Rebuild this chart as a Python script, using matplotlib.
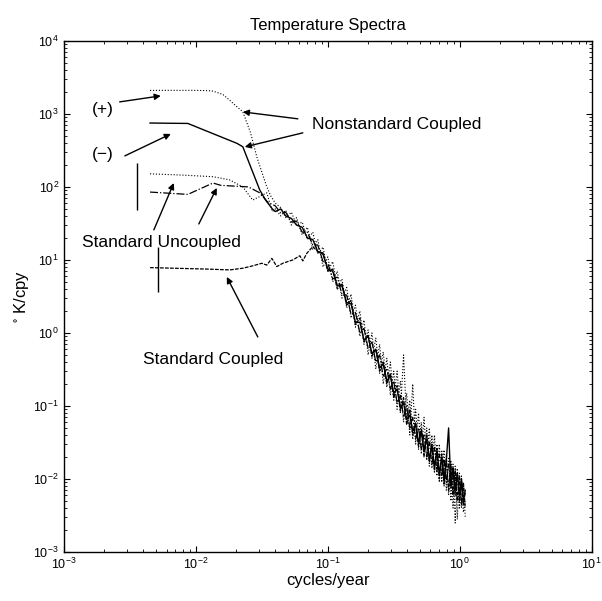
import matplotlib
matplotlib.use("Agg")
import matplotlib.pyplot as plt

plt.rcParams["font.family"] = ["Liberation Sans", "DejaVu Sans"]
plt.rcParams["mathtext.default"] = "regular"

# shared high-frequency grid (cycles/year)
f_tail = [0.040, 0.044, 0.048, 0.053, 0.058, 0.064, 0.070, 0.077, 0.084, 0.092,
          0.100, 0.109, 0.118, 0.128, 0.139, 0.150, 0.162, 0.175, 0.188, 0.202,
          0.216, 0.231, 0.247, 0.263, 0.280, 0.298, 0.316, 0.335, 0.355, 0.375,
          0.396, 0.418, 0.440, 0.463, 0.487, 0.511, 0.536, 0.562, 0.588, 0.615,
          0.643, 0.671, 0.700, 0.730, 0.760, 0.791, 0.823, 0.856, 0.889, 0.923,
          0.958, 0.994, 1.030, 1.065, 1.100]

# Nonstandard Coupled (+)
plus_x = [0.0045, 0.006, 0.008, 0.010, 0.0125, 0.0135, 0.016, 0.018, 0.020,
          0.0227, 0.026, 0.029, 0.032, 0.0345, 0.037]
plus_y = [2100, 2100, 2100, 2100, 2080, 2050, 1850, 1550, 1300,
          1070, 550, 257, 150, 100, 75]
plus_tail = [60, 52, 38, 45, 30, 33, 19, 24, 12, 15,
             7, 9.5, 4.2, 5.5, 2.2, 3.4, 1.2, 2.0, 0.7, 1.1,
             0.45, 0.85, 0.28, 0.55, 0.18, 0.40, 0.12, 0.30, 0.08, 0.50,
             0.06, 0.12, 0.035, 0.09, 0.025, 0.06, 0.02, 0.05, 0.015, 0.04,
             0.012, 0.03, 0.009, 0.025, 0.008, 0.022, 0.006, 0.018, 0.004, 0.015,
             0.0028, 0.012, 0.004, 0.009, 0.003]

# Nonstandard Coupled (-)
minus_x = [0.0045, 0.006, 0.0087, 0.0205, 0.0227, 0.0305, 0.034, 0.038]
minus_y = [750, 745, 740, 395, 355, 91, 65, 50]
minus_tail = [46, 50, 40, 37, 30, 28, 20, 19, 13, 12,
              7.5, 7, 4.5, 4.4, 2.6, 2.5, 1.4, 1.4, 0.8, 0.9,
              0.52, 0.6, 0.33, 0.38, 0.22, 0.26, 0.15, 0.17, 0.095, 0.11,
              0.065, 0.075, 0.045, 0.055, 0.032, 0.045, 0.025, 0.035, 0.019, 0.028,
              0.015, 0.024, 0.012, 0.02, 0.01, 0.018, 0.05, 0.008, 0.014, 0.007,
              0.012, 0.006, 0.01, 0.005, 0.007]

# Standard Uncoupled (two runs)
unc1_x = [0.0045, 0.008, 0.0135, 0.018, 0.0227, 0.027, 0.0345, 0.038]
unc1_y = [151, 145, 138, 125, 100, 66, 83, 46]
unc1_tail = [50, 40, 48, 30, 38, 22, 28, 14, 19, 8,
             11, 5, 7, 3, 4.2, 1.6, 2.4, 0.9, 1.5, 0.5,
             1.0, 0.32, 0.7, 0.2, 0.45, 0.14, 0.30, 0.09, 0.22, 0.06,
             0.15, 0.04, 0.20, 0.03, 0.08, 0.022, 0.07, 0.018, 0.05, 0.014,
             0.04, 0.011, 0.03, 0.009, 0.025, 0.007, 0.02, 0.005, 0.016, 0.0025,
             0.014, 0.004, 0.011, 0.0035, 0.005]

unc2_x = [0.0045, 0.0087, 0.0135, 0.0155, 0.025, 0.0305, 0.035]
unc2_y = [85, 79, 113, 105, 100, 83, 62]
unc2_tail = [55, 44, 45, 33, 34, 24, 24, 16, 16, 9.5,
             9, 5.5, 5.8, 3.4, 3.3, 1.8, 1.9, 1.0, 1.15, 0.62,
             0.75, 0.4, 0.5, 0.25, 0.33, 0.17, 0.22, 0.11, 0.14, 0.07,
             0.10, 0.05, 0.07, 0.035, 0.05, 0.026, 0.04, 0.02, 0.032, 0.016,
             0.027, 0.013, 0.022, 0.011, 0.018, 0.009, 0.016, 0.0075, 0.014, 0.006,
             0.012, 0.005, 0.009, 0.0045, 0.0065]

# Standard Coupled
cpl_x = [0.0045, 0.012, 0.0181, 0.0227, 0.027, 0.0316, 0.0345, 0.0377, 0.0411,
         0.0456, 0.0543, 0.0614, 0.0647, 0.0693, 0.0769]
cpl_y = [7.85, 7.5, 7.3, 7.7, 8.3, 9.0, 8.5, 10.5, 8.1,
         9.0, 10, 11.4, 9.7, 12.3, 15.2]
cpl_tail = [13, 12.5, 7, 7.5, 4, 4.8, 2.4, 2.8, 1.3, 1.6,
            0.75, 0.95, 0.48, 0.6, 0.3, 0.4, 0.2, 0.28, 0.13, 0.19,
            0.085, 0.13, 0.055, 0.09, 0.04, 0.06, 0.028, 0.048, 0.021, 0.04,
            0.017, 0.03, 0.013, 0.026, 0.01, 0.022, 0.0085, 0.018, 0.007, 0.016,
            0.006, 0.013, 0.005, 0.011, 0.0045, 0.009, 0.004]

# confidence bars
bar_x = [0.00357, 0.00515]
bar_lo = [48, 3.65]
bar_hi = [214, 15.1]

fig = plt.figure(figsize=(6.02, 6.01), dpi=100)
ax = fig.add_axes([0.106, 0.0815, 0.877, 0.8505])

ax.plot(plus_x + f_tail, plus_y + plus_tail, color="black", lw=0.8, ls=":")
ax.plot(minus_x + f_tail, minus_y + minus_tail, color="black", lw=1.0, ls="-")
ax.plot(unc1_x + f_tail, unc1_y + unc1_tail, color="black", lw=0.8, ls=":")
ax.plot(unc2_x + f_tail, unc2_y + unc2_tail, color="black", lw=0.9, ls="-.")
ax.plot(cpl_x + f_tail[8:], cpl_y + cpl_tail, color="black", lw=0.9, ls=(0, (3, 1)))
ax.vlines(bar_x, bar_lo, bar_hi, color="black", lw=1.0)

ax.set_xscale("log")
ax.set_yscale("log")
ax.set_xlim(1e-3, 1e1)
ax.set_ylim(1e-3, 1e4)
ax.tick_params(which="both", direction="in", top=True, right=True, labelsize=9)
ax.tick_params(which="major", length=4)
ax.tick_params(which="minor", length=2.2)
for s in ax.spines.values():
    s.set_linewidth(1.0)

ax.set_title("Temperature Spectra", fontsize=12, pad=8)
ax.set_xlabel("cycles/year", fontsize=12, labelpad=1)
ax.set_ylabel("$^{\\circ}$ K/cpy", fontsize=12, labelpad=2)

arrow = dict(arrowstyle="-|>", color="black", lw=1.0, shrinkA=0, shrinkB=0,
             mutation_scale=9)
ax.text(0.00197, 1135, "(+)", fontsize=12.5, ha="center", va="center")
ax.annotate("", xy=(0.00543, 1766), xytext=(0.00265, 1460), arrowprops=arrow)
ax.text(0.00197, 274, "(\u2212)", fontsize=12.5, ha="center", va="center")
ax.annotate("", xy=(0.00647, 532), xytext=(0.0029, 266), arrowprops=arrow)

ax.text(0.0757, 707, "Nonstandard Coupled", fontsize=12.5, ha="left", va="center")
ax.annotate("", xy=(0.0227, 1064), xytext=(0.0593, 856), arrowprops=arrow)
ax.annotate("", xy=(0.0235, 353), xytext=(0.0647, 550), arrowprops=arrow)

ax.text(0.00552, 17.1, "Standard Uncoupled", fontsize=12.5, ha="center", va="center")
ax.annotate("", xy=(0.00681, 113), xytext=(0.00481, 25.8), arrowprops=arrow)
ax.annotate("", xy=(0.01442, 96.8), xytext=(0.01054, 31.1), arrowprops=arrow)

ax.text(0.01345, 0.427, "Standard Coupled", fontsize=12.5, ha="center", va="center")
ax.annotate("", xy=(0.01717, 5.85), xytext=(0.0295, 0.881), arrowprops=arrow)

fig.savefig("out.png", dpi=100)
